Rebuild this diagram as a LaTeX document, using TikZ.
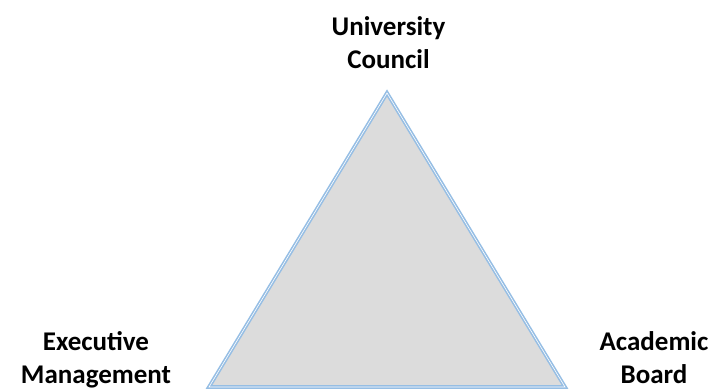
\documentclass[tikz,border=0pt]{standalone}
\usepackage{fontspec}
\setmainfont{Carlito}
\usetikzlibrary{positioning}
\definecolor{edgeblue}{RGB}{150,190,228}
\definecolor{facegray}{RGB}{220,220,220}
\tikzset{body label/.style={font=\bfseries\fontsize{27}{33}\selectfont,align=center,inner sep=0pt,anchor=base}}
\begin{document}
\begin{tikzpicture}[x=1pt,y=-1pt]
\useasboundingbox (0,0) rectangle (715,389);
\path (387,93) coordinate (top) (209,387) coordinate (left) (565,387) coordinate (right);
\filldraw[draw=edgeblue,fill=facegray,line width=1.6pt,double=white,double distance=0.6pt,line join=miter]
 (top) -- (right) -- (left) -- cycle;
\node[body label] (council) at (388.5,68) {University\\Council};
\node[body label] (executive) at (96,383.5) {Executive\\Management};
\node[body label] (academic) at (654,383.5) {Academic\\Board};
\end{tikzpicture}
\end{document}
